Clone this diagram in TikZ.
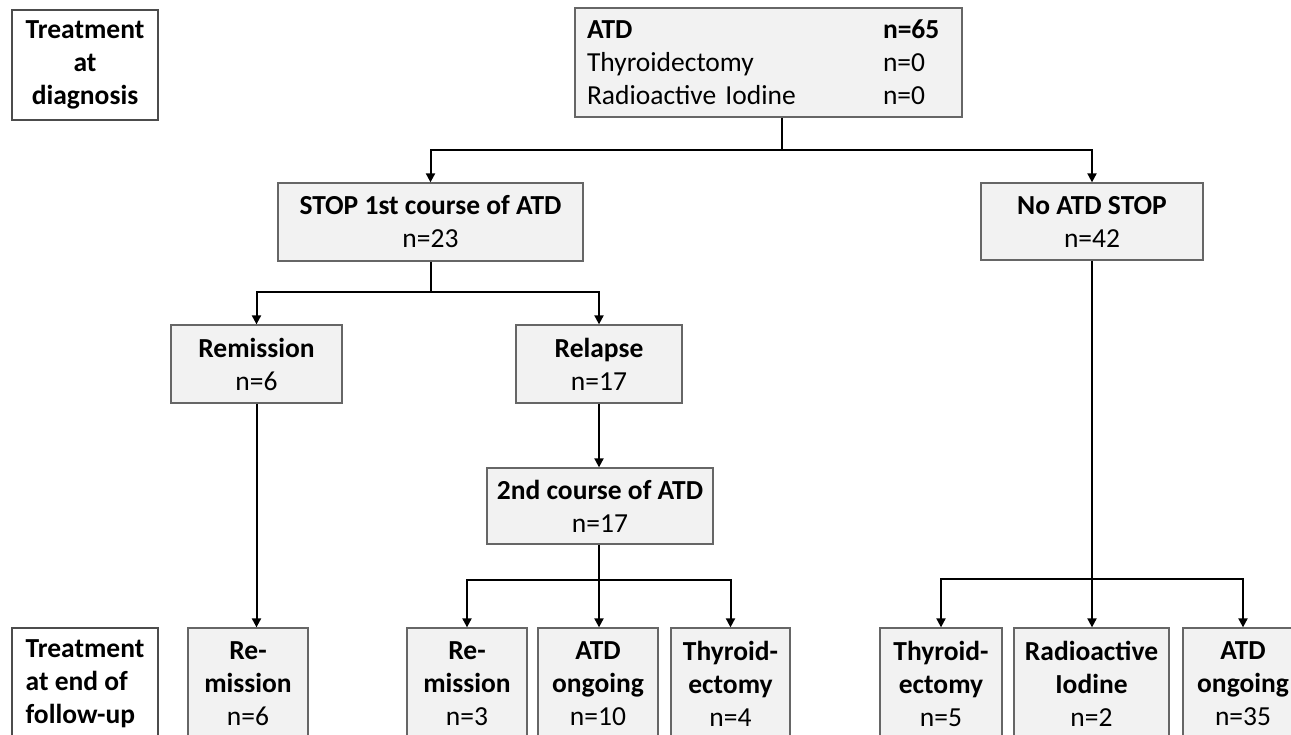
\documentclass[tikz,border=0pt]{standalone}
\usepackage{fontspec}
\setmainfont{Carlito}
\usetikzlibrary{arrows.meta}
\begin{document}
\begin{tikzpicture}[x=1pt,y=-1pt,
  every node/.style={font=\fontsize{27.5}{33}\selectfont},
  box/.style={draw=black!60, line width=1.3pt, fill=black!5, inner sep=0pt, align=center},
  labbox/.style={draw=black!70, line width=1.3pt, fill=white, inner sep=0pt},
  conn/.style={line width=2pt, black},
  arr/.style={conn, -{Triangle[length=9pt,width=9pt]}}
]
\useasboundingbox (0,0) rectangle (1291,734);
\clip (0,0) rectangle (1291,734);
% label boxes
\node[labbox, minimum width=146pt, minimum height=110pt, align=center] (diag) at (85,65)
  {\textbf{Treatment}\\\textbf{at}\\\textbf{diagnosis}};
\node[labbox, minimum width=146pt, minimum height=112pt, align=left] (endlab) at (85,684)
  {\textbf{Treatment}\\\textbf{at end of}\\\textbf{follow-up}};
% top box
\node[box, minimum height=109pt, inner xsep=12pt, text width=363pt, align=left] (top) at (768.5,62.5)
  {\makebox[296pt][l]{\textbf{ATD}}\textbf{n=65}\\
   \makebox[296pt][l]{Thyroidectomy}n=0\\
   \makebox[296pt][l]{Radioactive Iodine}n=0};
% second level
\node[box, minimum width=305pt, minimum height=78pt] (stop) at (430.5,222)
  {\textbf{STOP 1st course of ATD}\\n=23};
\node[box, minimum width=222pt, minimum height=77pt] (noatd) at (1092,221.5)
  {\textbf{No ATD STOP}\\n=42};
% third level
\node[box, minimum width=171pt, minimum height=78pt] (rem) at (256.5,364)
  {\textbf{Remission}\\n=6};
\node[box, minimum width=166pt, minimum height=78pt] (rel) at (599,364)
  {\textbf{Relapse}\\n=17};
\node[box, minimum width=226pt, minimum height=76pt] (second) at (600,506)
  {\textbf{2nd course of ATD}\\n=17};
% bottom row
\tikzset{bot/.style={box, minimum height=112pt}}
\node[bot, minimum width=120pt] (b1) at (248,684) {\textbf{Re-}\\\textbf{mission}\\n=6};
\node[bot, minimum width=120pt] (b2) at (467,684) {\textbf{Re-}\\\textbf{mission}\\n=3};
\node[bot, minimum width=120pt] (b3) at (598,684) {\textbf{ATD}\\\textbf{ongoing}\\n=10};
\node[bot, minimum width=119pt] (b4) at (730.5,684) {\textbf{Thyroid-}\\\textbf{ectomy}\\n=4};
\node[bot, minimum width=122pt] (b5) at (941,684) {\textbf{Thyroid-}\\\textbf{ectomy}\\n=5};
\node[bot, minimum width=155pt] (b6) at (1091.5,684) {\textbf{Radioactive}\\\textbf{Iodine}\\n=2};
\node[bot, minimum width=120pt] (b7) at (1243,684) {\textbf{ATD}\\\textbf{ongoing}\\n=35};
% junctions
\coordinate (j1) at (782,150);
\coordinate (j2) at (431,292);
\coordinate (j3) at (599,580);
\coordinate (j4) at (1092,579);
% connectors
\draw[conn] (j1 |- top.south) -- (j1);
\draw[arr] (j1) -| (stop.north);
\draw[arr] (j1) -| (noatd.north);
\draw[conn] (j2 |- stop.south) -- (j2);
\draw[arr] (j2) -| (rem.north);
\draw[arr] (j2) -| (rel.north);
\draw[arr] (rel.south) -- (rel.south |- second.north);
\draw[arr] (rem.south) -- (rem.south |- b1.north);
\draw[conn] (j3 |- second.south) -- (j3);
\draw[arr] (j3) -| (b2.north);
\draw[arr] (j3) -- (j3 |- b3.north);
\draw[arr] (j3) -| (b4.north);
\draw[conn] (noatd.south) -- (j4);
\draw[arr] (j4) -| (b5.north);
\draw[arr] (j4) -- (j4 |- b6.north);
\draw[arr] (j4) -| (b7.north);
\end{tikzpicture}
\end{document}
